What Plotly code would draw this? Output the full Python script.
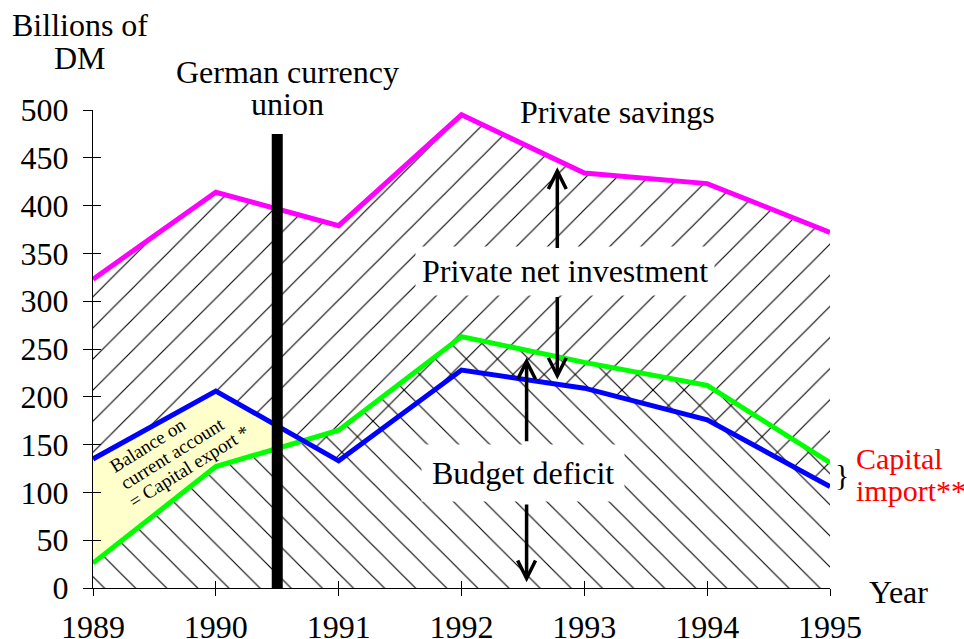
import plotly.graph_objects as go

# Data (billions of DM)
years = [1989, 1990, 1991, 1992, 1993, 1994, 1995]
private_savings = [323, 414, 379, 495, 434, 423, 372]
budget_line = [135, 206, 133, 228, 209, 176, 106]      # blue
investment_line = [26, 127, 165, 263, 236, 212, 131]   # green

y_ticks = [0, 50, 100, 150, 200, 250, 300, 350, 400, 450, 500]
currency_union_year = 1990.5
currency_union_top = 475

FONT = "Liberation Serif"
MAGENTA = "#FF00FF"
BLUE = "#0000FF"
GREEN = "#00FF00"
YELLOW = "#FFFFCC"

# plot area in pixels, used to place the free text
L, R, T, B = 93, 830, 110, 588

# where the blue and green lines cross (between 1990 and 1991)
d0 = budget_line[1] - investment_line[1]
d1 = budget_line[2] - investment_line[2]
t = d0 / (d0 - d1)
x_cross = years[1] + t * (years[2] - years[1])
y_cross = budget_line[1] + t * (budget_line[2] - budget_line[1])

fig = go.Figure()

# yellow band: balance on current account
fig.add_trace(go.Scatter(x=years[:2] + [x_cross], y=investment_line[:2] + [y_cross],
                         mode='lines', line=dict(width=0), hoverinfo='skip'))
fig.add_trace(go.Scatter(x=years[:2] + [x_cross], y=budget_line[:2] + [y_cross],
                         mode='lines', line=dict(width=0), fill='tonexty',
                         fillcolor=YELLOW, hoverinfo='skip'))

hatch = dict(fgcolor='black', bgcolor='rgba(0,0,0,0)', size=22, solidity=0.05,
             fillmode='replace')

# "\" hatch from zero up to the green line
fig.add_trace(go.Scatter(x=years, y=investment_line, mode='lines', line=dict(width=0),
                         fill='tozeroy', fillcolor='rgba(0,0,0,0)',
                         fillpattern=dict(shape='\\', **hatch), hoverinfo='skip'))

# "/" hatch from the blue line up to private savings
fig.add_trace(go.Scatter(x=years, y=budget_line, mode='lines', line=dict(width=0),
                         hoverinfo='skip'))
fig.add_trace(go.Scatter(x=years, y=private_savings, mode='lines', line=dict(width=0),
                         fill='tonexty', fillcolor='rgba(0,0,0,0)',
                         fillpattern=dict(shape='/', **hatch), hoverinfo='skip'))

# visible lines
for ys, col in [(private_savings, MAGENTA), (investment_line, GREEN), (budget_line, BLUE)]:
    fig.add_trace(go.Scatter(x=years, y=ys, mode='lines', line=dict(color=col, width=5)))

# invisible trace to carry the crossing tick axes
fig.add_trace(go.Scatter(x=[years[0]], y=[0], xaxis='x2', yaxis='y2', mode='markers',
                         marker=dict(opacity=0), hoverinfo='skip'))

# currency union bar
fig.add_shape(type='line', x0=currency_union_year, x1=currency_union_year,
              y0=0, y1=currency_union_top, line=dict(color='black', width=11))

txt = dict(family=FONT, size=32, color='black')


def label(text, px, py, **kw):
    # px, py: pixel position on the page
    kw.setdefault('xanchor', 'center')
    kw.setdefault('yanchor', 'middle')
    fig.add_annotation(x=(px - L) / (R - L), y=(B - py) / (B - T), xref='paper', yref='paper',
                       text=text, showarrow=False, font=kw.pop('font', txt), **kw)


label("Billions of", 80, 25)
label("DM", 80, 58)
label("German currency", 287, 72)
label("union", 287, 104)
label("Private savings", 617, 112)
label("Private net investment", 565, 271, bgcolor='white', borderpad=6)
label("Budget deficit", 523, 473, bgcolor='white', borderpad=10)
label("Year", 899, 592)

red = dict(family=FONT, size=30, color='red')
label("Capital", 854, 458, xanchor='left', font=red)
label("import**", 854, 490, xanchor='left', font=red)
label("}", 842, 474, font=dict(family=FONT, size=30, color='black'))

small = dict(family=FONT, size=19, color='black')
label("Balance on", 147, 445, textangle=-32, font=small)
label("current account", 172, 453, textangle=-32, font=small)
label("= Capital export *", 189, 466, textangle=-32, font=small)


# arrows
def arrow(x, y_tail, y_head):
    fig.add_annotation(x=x, y=y_head, ax=x, ay=y_tail, xref='x', yref='y',
                       axref='x', ayref='y', text='', showarrow=True,
                       arrowhead=5, arrowsize=1, arrowwidth=3.5, arrowcolor='black')


arrow(1992.78, 354, 440)
arrow(1992.78, 306, 218)
arrow(1992.53, 152, 241)
arrow(1992.53, 89, 6)

axis_font = dict(family=FONT, size=32, color='black')
fig.update_layout(
    width=964, height=639,
    margin=dict(l=L, r=964 - R, t=T, b=639 - B, autoexpand=False),
    paper_bgcolor='white', plot_bgcolor='white',
    showlegend=False,
    xaxis=dict(range=[1989, 1995], tickvals=years, ticks='outside', ticklen=7,
               tickcolor='black', showline=True, linecolor='black', linewidth=1,
               showgrid=False, zeroline=False, tickfont=axis_font, ticklabelstandoff=4),
    yaxis=dict(range=[0, 500], tickvals=y_ticks, ticks='outside', ticklen=9,
               tickcolor='black', showline=True, linecolor='black', linewidth=1,
               showgrid=False, zeroline=False, tickfont=axis_font, ticklabelstandoff=8),
    xaxis2=dict(range=[1989, 1995], overlaying='x', tickvals=years, ticks='inside',
                ticklen=7, tickcolor='black', showticklabels=False, showline=False,
                showgrid=False, zeroline=False),
    yaxis2=dict(range=[0, 500], overlaying='y', tickvals=y_ticks, ticks='inside',
                ticklen=8, tickcolor='black', showticklabels=False, showline=False,
                showgrid=False, zeroline=False),
)

fig.write_html("out.html", config={'displayModeBar': False},
               post_script="document.body.style.margin='0';")
